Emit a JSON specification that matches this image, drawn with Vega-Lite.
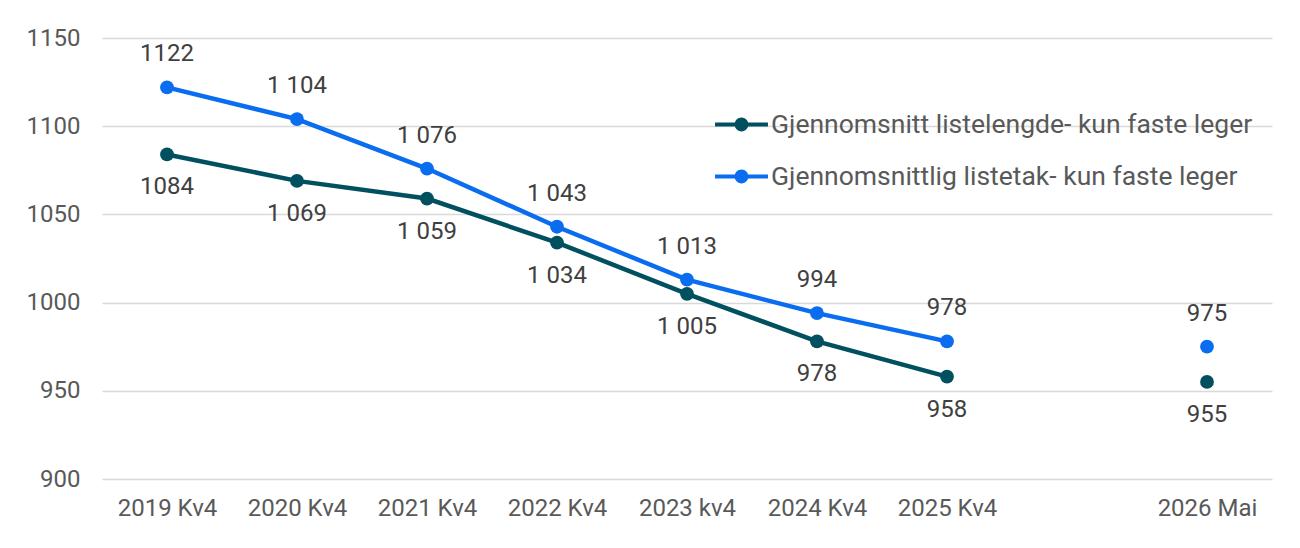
{
  "$schema": "https://vega.github.io/schema/vega-lite/v6.json",
  "width": 1170,
  "height": 441,
  "autosize": {"type": "none"},
  "padding": {"left": 102, "top": 38, "right": 28, "bottom": 69},
  "background": "white",
  "config": {"font": "Roboto", "view": {"stroke": null}},
  "data": {
    "values": [
      {"period": "2019 Kv4", "series": "Gjennomsnitt listelengde- kun faste leger", "value": 1084, "label": "1084"},
      {"period": "2020 Kv4", "series": "Gjennomsnitt listelengde- kun faste leger", "value": 1069, "label": "1 069"},
      {"period": "2021 Kv4", "series": "Gjennomsnitt listelengde- kun faste leger", "value": 1059, "label": "1 059"},
      {"period": "2022 Kv4", "series": "Gjennomsnitt listelengde- kun faste leger", "value": 1034, "label": "1 034"},
      {"period": "2023 kv4", "series": "Gjennomsnitt listelengde- kun faste leger", "value": 1005, "label": "1 005"},
      {"period": "2024 Kv4", "series": "Gjennomsnitt listelengde- kun faste leger", "value": 978, "label": "978"},
      {"period": "2025 Kv4", "series": "Gjennomsnitt listelengde- kun faste leger", "value": 958, "label": "958"},
      {"period": "2026 Mai", "series": "Gjennomsnitt listelengde- kun faste leger", "value": 955, "label": "955"},
      {"period": "2019 Kv4", "series": "Gjennomsnittlig listetak- kun faste leger", "value": 1122, "label": "1122"},
      {"period": "2020 Kv4", "series": "Gjennomsnittlig listetak- kun faste leger", "value": 1104, "label": "1 104"},
      {"period": "2021 Kv4", "series": "Gjennomsnittlig listetak- kun faste leger", "value": 1076, "label": "1 076"},
      {"period": "2022 Kv4", "series": "Gjennomsnittlig listetak- kun faste leger", "value": 1043, "label": "1 043"},
      {"period": "2023 kv4", "series": "Gjennomsnittlig listetak- kun faste leger", "value": 1013, "label": "1 013"},
      {"period": "2024 Kv4", "series": "Gjennomsnittlig listetak- kun faste leger", "value": 994, "label": "994"},
      {"period": "2025 Kv4", "series": "Gjennomsnittlig listetak- kun faste leger", "value": 978, "label": "978"},
      {"period": "2026 Mai", "series": "Gjennomsnittlig listetak- kun faste leger", "value": 975, "label": "975"}
    ]
  },
  "encoding": {
    "x": {
      "field": "period",
      "type": "ordinal",
      "scale": {
        "type": "point",
        "domain": ["2019 Kv4", "2020 Kv4", "2021 Kv4", "2022 Kv4", "2023 kv4", "2024 Kv4", "2025 Kv4", "gap", "2026 Mai"],
        "padding": 0.5
      },
      "axis": {
        "title": null,
        "labelAngle": 0,
        "labelExpr": "datum.value == 'gap' ? '' : datum.value",
        "labelFontSize": 24,
        "labelColor": "#595959",
        "labelPadding": 17,
        "domain": false,
        "ticks": false,
        "grid": false
      }
    },
    "y": {
      "field": "value",
      "type": "quantitative",
      "scale": {"domain": [900, 1150], "nice": false, "zero": false},
      "axis": {
        "title": null,
        "values": [900, 950, 1000, 1050, 1100, 1150],
        "format": "d",
        "labelFontSize": 24,
        "labelColor": "#595959",
        "labelPadding": 22,
        "domain": false,
        "ticks": false,
        "grid": true,
        "gridColor": "#d9d9d9",
        "gridWidth": 1.5
      }
    }
  },
  "layer": [
    {
      "transform": [{"filter": "datum.period != '2026 Mai'"}],
      "mark": {"type": "line", "strokeWidth": 4.5},
      "encoding": {
        "color": {
          "field": "series",
          "type": "nominal",
          "scale": {
            "domain": ["Gjennomsnitt listelengde- kun faste leger", "Gjennomsnittlig listetak- kun faste leger"],
            "range": ["#005060", "#0A6CEF"]
          },
          "legend": {
            "orient": "none",
            "legendX": 613,
            "legendY": 60,
            "title": null,
            "labelFontSize": 26.5,
            "labelColor": "#595959",
            "labelLimit": 0,
            "labelOffset": 3,
            "rowPadding": 12,
            "symbolType": "M-1,-0.08 L1,-0.08 L1,0.08 L-1,0.08 Z M-0.26,0 A0.26,0.26 0 1,1 0.26,0 A0.26,0.26 0 1,1 -0.26,0 Z",
            "symbolSize": 2800,
            "symbolStrokeWidth": 0,
            "encode": {
              "symbols": {"update": {"fill": {"scale": "color", "field": "value"}, "opacity": {"value": 1}}}
            }
          }
        }
      }
    },
    {
      "mark": {"type": "point", "filled": true, "size": 190, "opacity": 1},
      "encoding": {
        "color": {"field": "series", "type": "nominal"}
      }
    },
    {
      "transform": [{"filter": "datum.series == 'Gjennomsnittlig listetak- kun faste leger'"}],
      "mark": {"type": "text", "fontSize": 24, "color": "#404040", "baseline": "middle", "dy": -33},
      "encoding": {"text": {"field": "label"}}
    },
    {
      "transform": [{"filter": "datum.series == 'Gjennomsnitt listelengde- kun faste leger'"}],
      "mark": {"type": "text", "fontSize": 24, "color": "#404040", "baseline": "middle", "dy": 33},
      "encoding": {"text": {"field": "label"}}
    }
  ]
}
